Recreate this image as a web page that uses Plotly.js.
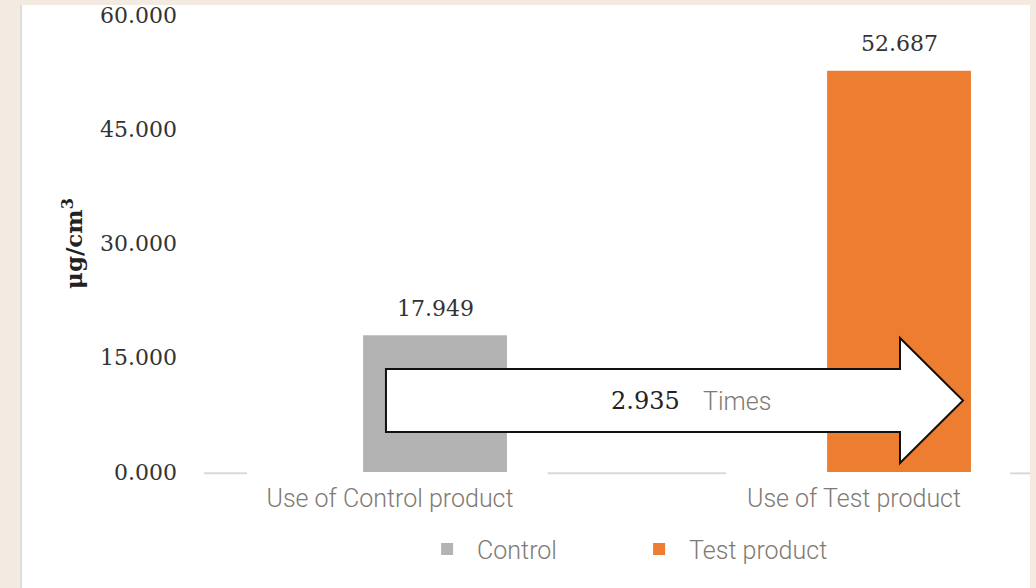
<!DOCTYPE html>
<html>
<head>
<meta charset="utf-8">
<script src="https://cdn.plot.ly/plotly-3.0.1.min.js"></script>
<style>
  html, body { margin: 0; padding: 0; background: #f3ebe2; }
  #chart { width: 1036px; height: 588px; }
</style>
</head>
<body>
<div id="chart"></div>
<script>
  // values
  const categories = ['Use of Control product', 'Use of Test product'];
  const seriesNames = ['Control', 'Test product'];
  const controlValues = [17.949];
  const testValues = [52.687];
  const yTicks = [0, 15, 30, 45, 60];
  const ratioUnit = 'Times';

  const GREY = '#b3b3b3', ORANGE = '#ed7d31';
  const LABEL_GREY = '#7f7a74';
  const SERIF = 'DejaVu Serif';

  // bars sit a little right of the category centre
  const BAR_W = 0.31, BAR_OFF = -0.058;

  const traces = [
    {
      type: 'bar', name: seriesNames[0],
      x: [categories[0]], y: controlValues,
      width: BAR_W, offset: BAR_OFF,
      marker: { color: GREY, line: { width: 0 } },
      hoverinfo: 'skip'
    },
    {
      type: 'bar', name: seriesNames[1],
      x: [categories[1]], y: testValues,
      width: BAR_W, offset: BAR_OFF,
      marker: { color: ORANGE, line: { width: 0 } },
      hoverinfo: 'skip'
    }
  ];

  // value labels over the bars
  const allValues = [controlValues[0], testValues[0]];
  const annotations = allValues.map((v, i) => ({
    x: i + BAR_OFF + BAR_W / 2, y: v, xref: 'x', yref: 'y',
    text: v.toFixed(3), showarrow: false,
    yanchor: 'middle', yshift: 27,
    font: { family: SERIF, size: 22, color: '#333' }
  }));

  // ratio text inside the arrow
  const ratio = testValues[0] / controlValues[0];
  annotations.push({
    x: 0.5785, y: 0.155, xref: 'paper', yref: 'paper',
    xanchor: 'right', yanchor: 'middle', showarrow: false,
    text: ratio.toFixed(3),
    font: { family: SERIF, size: 24, color: '#222' }
  });
  annotations.push({
    x: 0.602, y: 0.155, xref: 'paper', yref: 'paper',
    xanchor: 'left', yanchor: 'middle', showarrow: false,
    text: ratioUnit,
    font: { family: 'Roboto', size: 25, weight: 300, color: LABEL_GREY }
  });

  const shapes = [
    // white card behind the chart
    { type: 'rect', xref: 'paper', yref: 'paper', layer: 'below',
      x0: -0.2228, x1: 1, y0: -0.3, y1: 1.0219,
      fillcolor: '#ffffff', line: { width: 0 } },
    { type: 'line', xref: 'paper', yref: 'paper', layer: 'below',
      x0: -0.2215, x1: -0.2215, y0: -0.3, y1: 1.0219,
      line: { color: '#dcdcdc', width: 2 } },
    // broken base line
    { type: 'line', xref: 'paper', yref: 'paper', x0: 0, x1: 0.052, y0: -0.003, y1: -0.003,
      line: { color: '#d9d9d9', width: 2 } },
    { type: 'line', xref: 'paper', yref: 'paper', x0: 0.416, x1: 0.632, y0: -0.003, y1: -0.003,
      line: { color: '#d9d9d9', width: 2 } },
    { type: 'line', xref: 'paper', yref: 'paper', x0: 0.976, x1: 1, y0: -0.003, y1: -0.003,
      line: { color: '#d9d9d9', width: 2 } },
    // block arrow
    { type: 'path', xref: 'paper', yref: 'paper', layer: 'above',
      path: 'M0.2203,0.2254 L0.8426,0.2254 L0.8426,0.2932 L0.9189,0.1565 ' +
            'L0.8426,0.0197 L0.8426,0.0875 L0.2203,0.0875 Z',
      fillcolor: '#ffffff', line: { color: '#111', width: 2 } }
  ];

  const layout = {
    width: 1036, height: 588,
    margin: { l: 204, r: 6, t: 15, b: 116 },
    paper_bgcolor: '#f3ebe2',
    plot_bgcolor: 'rgba(0,0,0,0)',
    barmode: 'overlay',
    showlegend: true,
    legend: {
      orientation: 'h', x: 0.258, xanchor: 'left', y: -0.169, yanchor: 'middle',
      itemwidth: 50, entrywidth: 147, entrywidthmode: 'pixels',
      bgcolor: 'rgba(0,0,0,0)',
      font: { family: 'Roboto', size: 25, weight: 300, color: LABEL_GREY }
    },
    xaxis: {
      type: 'category', range: [-0.4009, 1.3793],
      showgrid: false, zeroline: false, showline: false, ticks: '',
      ticklabelstandoff: 9,
      tickfont: { family: 'Roboto', size: 25, weight: 300, color: LABEL_GREY },
      fixedrange: true
    },
    yaxis: {
      range: [0, 60], tickvals: yTicks, tickformat: '.3f',
      showgrid: false, zeroline: false, showline: false, ticks: '',
      ticklabelstandoff: 26,
      tickfont: { family: SERIF, size: 22, color: '#333' },
      title: { text: 'μg/cm<sup>3</sup>', standoff: 10,
               font: { family: SERIF, size: 23, weight: 'bold', color: '#222' } },
      fixedrange: true
    },
    annotations: annotations,
    shapes: shapes
  };

  Plotly.newPlot('chart', traces, layout, { displayModeBar: false, staticPlot: true });
</script>
</body>
</html>
